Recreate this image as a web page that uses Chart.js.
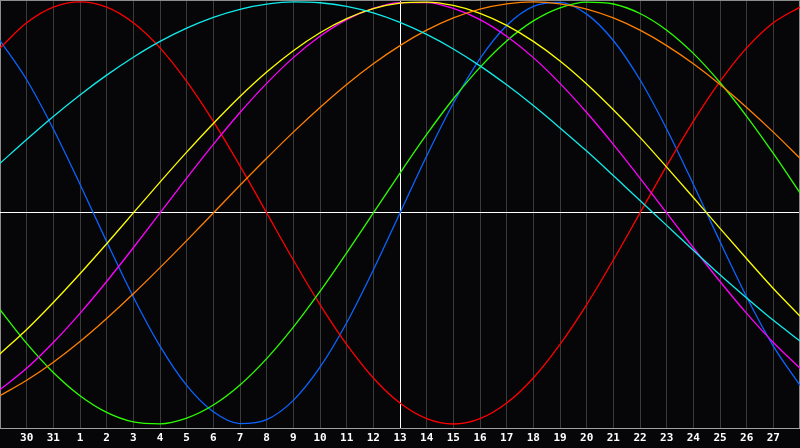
<!DOCTYPE html>
<html>
<head>
<meta charset="utf-8">
<style>
  html, body { margin: 0; padding: 0; background: #060608; overflow: hidden; }
  canvas { display: block; }
</style>
</head>
<body>
<canvas id="bio-chart" width="800" height="448"></canvas>
<script src="https://cdn.jsdelivr.net/npm/chart.js@4/dist/chart.umd.min.js"></script>
<script>
// Días mostrados (del 29 al 28), hoy = 13
const dayLabels = ['29', '30', '31', '1', '2', '3', '4', '5', '6', '7', '8', '9', '10', '11', '12', '13',
  '14', '15', '16', '17', '18', '19', '20', '21', '22', '23', '24', '25', '26', '27', '28'];
const todayIndex = 15;

// Valores, en % (-100 .. 100)
const fisico = [81.7, 63.1, 39.8, 13.6, -13.6, -39.8, -63.1, -81.7, -94.2, -99.8, -97.9, -88.8, -73.1, -52.0, -27.0, 0,
  27.0, 52.0, 73.1, 88.8, 97.9, 99.8, 94.2, 81.7, 63.1, 39.8, 13.6, -13.6, -39.8, -63.1, -81.7];
const emocional = [78.2, 90.1, 97.5, 100, 97.5, 90.1, 78.2, 62.3, 43.4, 22.3, 0, -22.3, -43.4, -62.3, -78.2, -90.1,
  -97.5, -100, -97.5, -90.1, -78.2, -62.3, -43.4, -22.3, 0, 22.3, 43.4, 62.3, 78.2, 90.1, 97.5];
const intelectual = [-45.8, -61.8, -75.6, -86.6, -94.5, -99.0, -99.9, -97.2, -91.0, -81.5, -69.0, -54.1, -37.2, -18.9, 0, 18.9,
  37.2, 54.1, 69.0, 81.5, 91.0, 97.2, 99.9, 99.0, 94.5, 86.6, 75.6, 61.8, 45.8, 28.2, 9.5];
const intuitivo = [-83.7, -73.6, -61.4, -47.6, -32.5, -16.5, 0, 16.5, 32.5, 47.6, 61.4, 73.6, 83.7, 91.6, 96.9, 99.7,
  99.7, 96.9, 91.6, 83.7, 73.6, 61.4, 47.6, 32.5, 16.5, 0, -16.5, -32.5, -47.6, -61.4, -73.6];
const estetico = [-66.8, -55.2, -42.4, -28.8, -14.6, 0, 14.6, 28.8, 42.4, 55.2, 66.8, 76.9, 85.4, 92.1, 96.8, 99.4,
  99.9, 98.3, 94.6, 88.9, 81.3, 72.0, 61.1, 48.9, 35.8, 21.7, 7.3, -7.3, -21.7, -35.8, -48.9];
const conciencia = [-86.6, -79.3, -70.7, -60.9, -50.0, -38.3, -25.9, -13.1, 0, 13.1, 25.9, 38.3, 50.0, 60.9, 70.7, 79.3,
  86.6, 92.4, 96.6, 99.1, 100, 99.1, 96.6, 92.4, 86.6, 79.3, 70.7, 60.9, 50.0, 38.3, 25.9];
const espiritual = [23.5, 34.8, 45.7, 55.9, 65.3, 73.8, 81.3, 87.6, 92.7, 96.5, 98.9, 100.0, 99.6, 97.9, 94.8, 90.3,
  84.6, 77.7, 69.7, 60.7, 50.9, 40.3, 29.3, 17.7, 5.9, -5.9, -17.7, -29.3, -40.3, -50.9, -60.7];

function serie(data, color) {
  return {
    data: data,
    borderColor: color,
    borderWidth: 1.3,
    pointRadius: 0,
    cubicInterpolationMode: 'monotone',
    fill: false
  };
}

// Fondo y borde derecho del marco
const marco = {
  id: 'marco',
  beforeDraw(chart) {
    const c = chart.ctx;
    c.save();
    c.fillStyle = '#060608';
    c.fillRect(0, 0, chart.width, chart.height);
    c.restore();
  },
  beforeDatasetsDraw(chart) {
    const a = chart.chartArea;
    const c = chart.ctx;
    c.save();
    c.strokeStyle = '#8c8c8c';
    c.lineWidth = 1;
    c.beginPath();
    c.moveTo(a.right - 0.5, a.top);
    c.lineTo(a.right - 0.5, a.bottom);
    c.stroke();
    c.restore();
  }
};

new Chart(document.getElementById('bio-chart'), {
  type: 'line',
  data: {
    labels: dayLabels,
    datasets: [
      serie(espiritual, '#10ecec'),
      serie(conciencia, '#ff8000'),
      serie(estetico, '#ffff00'),
      serie(intuitivo, '#ff00ff'),
      serie(intelectual, '#2cff00'),
      serie(emocional, '#ff0000'),
      serie(fisico, '#0a64ff')
    ]
  },
  options: {
    responsive: false,
    animation: false,
    layout: { padding: 0 },
    plugins: { legend: { display: false }, tooltip: { enabled: false } },
    scales: {
      x: {
        offset: false,
        grid: {
          offset: false,
          drawTicks: false,
          color: ctx => {
            if (ctx.index === todayIndex) return '#ffffff';
            if (ctx.index === 0) return '#8c8c8c';
            return '#3a3a3a';
          }
        },
        border: { display: true, color: '#a0a0a0' },
        ticks: {
          color: '#ffffff',
          font: { family: 'DejaVu Sans Mono', size: 11, weight: 'bold' },
          padding: 4,
          maxRotation: 0,
          autoSkip: false,
          callback: function(value, index) {
            return (index === 0 || index === dayLabels.length - 1) ? '' : dayLabels[index];
          }
        },
        afterFit: s => {
          s.height = 20;
          s.paddingLeft = 0;
          s.paddingRight = 0;
        }
      },
      y: {
        min: -101.9,
        max: 100.9,
        grid: {
          drawTicks: false,
          color: ctx => {
            if (ctx.tick.value === 0) return '#ffffff';
            if (ctx.tick.value === 100.9) return '#8c8c8c';
            return 'rgba(0,0,0,0)';
          }
        },
        border: { display: false },
        ticks: { display: false, stepSize: 50 },
        afterFit: s => {
          s.width = 0;
          s.paddingTop = 0;
          s.paddingBottom = 0;
        }
      }
    }
  },
  plugins: [marco]
});
</script>
</body>
</html>
